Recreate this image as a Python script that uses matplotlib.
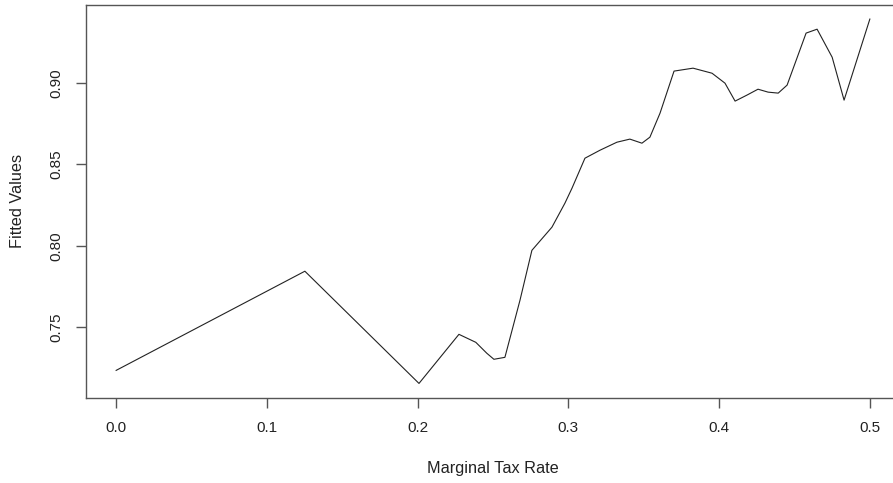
import matplotlib
matplotlib.use("Agg")
import matplotlib.pyplot as plt

# Fitted values
tax_rate = [0.000, 0.1252, 0.2009, 0.2274, 0.2386, 0.2459, 0.2506, 0.2579,
            0.2679, 0.2758, 0.2891, 0.2977, 0.3024, 0.3110, 0.3210, 0.3322,
            0.3408, 0.3488, 0.3541, 0.3608, 0.3701, 0.3827, 0.3953, 0.4039,
            0.4106, 0.4185, 0.4258, 0.4325, 0.4392, 0.4451, 0.4577, 0.4650,
            0.4750, 0.4829, 0.5000]
fitted = [0.7237, 0.7845, 0.7157, 0.7458, 0.7409, 0.7342, 0.7305, 0.7317,
          0.7667, 0.7973, 0.8115, 0.8262, 0.8354, 0.8538, 0.8587, 0.8636,
          0.8655, 0.8630, 0.8667, 0.8814, 0.9072, 0.9090, 0.9059, 0.8998,
          0.8888, 0.8925, 0.8961, 0.8943, 0.8937, 0.8986, 0.9305, 0.9329,
          0.9157, 0.8894, 0.9391]

x_ticks = [0.0, 0.1, 0.2, 0.3, 0.4, 0.5]
x_tick_labels = ["0.0", "0.1", "0.2", "0.3", "0.4", "0.5"]
y_ticks = [0.75, 0.80, 0.85, 0.90]
y_tick_labels = ["0.75", "0.80", "0.85", "0.90"]

plt.rcParams["font.family"] = ["Liberation Sans", "DejaVu Sans"]

W, H = 893, 483
fig = plt.figure(figsize=(W / 100, H / 100), dpi=100)

# plot region in pixels (right edge runs past the image, as in the reference)
left, right, top, bottom = 86, 900, 4.5, 398
ax = fig.add_axes([left / W, 1 - bottom / H, (right - left) / W, (bottom - top) / H])

ax.plot(tax_rate, fitted, color="#222222", linewidth=0.8)

# R-style 4% range expansion
xr = max(tax_rate) - min(tax_rate)
yr = max(fitted) - min(fitted)
ax.set_xlim(min(tax_rate) - 0.04 * xr, max(tax_rate) + 0.04 * xr)
ax.set_ylim(min(fitted) - 0.04 * yr, max(fitted) + 0.04 * yr)

ax.set_xticks(x_ticks)
ax.set_xticklabels(x_tick_labels)
ax.set_yticks(y_ticks)
ax.set_yticklabels(y_tick_labels, rotation=90, va="center")

for s in ax.spines.values():
    s.set_color("#555555")
    s.set_linewidth(1.0)

ax.tick_params(axis="both", length=7.5, width=1.0, color="#555555",
               labelsize=11, labelcolor="#222222")
ax.tick_params(axis="x", pad=9)
ax.tick_params(axis="y", pad=9)

fig.text(493 / W, 1 - 469 / H, "Marginal Tax Rate", ha="center", va="center",
         fontsize=11.7, color="#222222")
fig.text(18 / W, 1 - 201 / H, "Fitted Values", ha="center", va="center",
         rotation=90, fontsize=11.7, color="#222222")

fig.savefig("out.png", dpi=100)
